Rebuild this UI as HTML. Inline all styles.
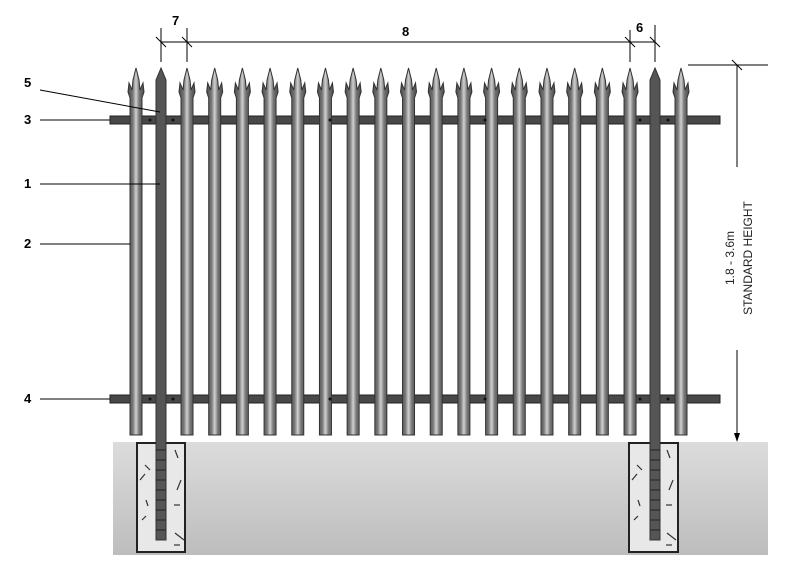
<!DOCTYPE html>
<html><head><meta charset="utf-8"><style>
html,body{margin:0;padding:0;background:#fff;width:795px;height:577px;overflow:hidden}
svg{display:block}
text{font-family:"Liberation Sans",Arial,sans-serif}
</style></head><body>
<svg id="s" width="795" height="577" viewBox="0 0 795 577" xmlns="http://www.w3.org/2000/svg">
<defs>
<linearGradient id="pg" x1="0" x2="1" y1="0" y2="0">
<stop offset="0" stop-color="#4a4a4a"/><stop offset="0.3" stop-color="#777"/><stop offset="0.5" stop-color="#d0d0d0"/><stop offset="0.7" stop-color="#777"/><stop offset="1" stop-color="#4a4a4a"/>
</linearGradient>
<linearGradient id="gg" x1="0" x2="0" y1="0" y2="1">
<stop offset="0" stop-color="#dcdcdc"/><stop offset="1" stop-color="#bdbdbd"/>
</linearGradient>
<symbol id="pale" overflow="visible">
<path d="M0,0 L3,12 L4,22 L7,15 L8,24 L6,30 L6,367 L-6,367 L-6,30 L-8,24 L-7,15 L-4,22 L-3,12 Z" fill="url(#pg)" stroke="#333" stroke-width="1"/>
</symbol>
</defs>
<!-- ground -->
<rect x="113" y="442" width="655" height="113" fill="url(#gg)"/>
<g id="pales"></g>
<!-- concrete -->
<rect x="137" y="443" width="48" height="109" fill="#e8e8e8" stroke="#222" stroke-width="2"/>
<rect x="629" y="443" width="49" height="109" fill="#e8e8e8" stroke="#222" stroke-width="2"/>
<g stroke="#333" stroke-width="1.2">
<line x1="145" y1="465" x2="150" y2="470"/><line x1="140" y1="480" x2="145" y2="474"/><line x1="175" y1="450" x2="178" y2="458"/><line x1="177" y1="490" x2="181" y2="480"/><line x1="146" y1="500" x2="148" y2="506"/><line x1="142" y1="520" x2="146" y2="516"/><line x1="175" y1="533" x2="184" y2="540"/><line x1="174" y1="545" x2="180" y2="545"/><line x1="174" y1="505" x2="180" y2="505"/>
<line x1="637" y1="465" x2="642" y2="470"/><line x1="632" y1="480" x2="637" y2="474"/><line x1="667" y1="450" x2="670" y2="458"/><line x1="669" y1="490" x2="673" y2="480"/><line x1="638" y1="500" x2="640" y2="506"/><line x1="634" y1="520" x2="638" y2="516"/><line x1="667" y1="533" x2="676" y2="540"/><line x1="666" y1="545" x2="672" y2="545"/><line x1="666" y1="505" x2="672" y2="505"/>
</g>
<g id="posts"></g>
<!-- dimensions -->
<g stroke="#000" stroke-width="1" fill="none">
<line x1="161" y1="42" x2="655" y2="42"/>
<line x1="161" y1="28" x2="161" y2="62"/><line x1="187" y1="28" x2="187" y2="62"/>
<line x1="630" y1="30" x2="630" y2="62"/><line x1="655" y1="25" x2="655" y2="62"/>
<line x1="156" y1="37" x2="166" y2="47"/><line x1="182" y1="37" x2="192" y2="47"/>
<line x1="625" y1="37" x2="635" y2="47"/><line x1="650" y1="37" x2="660" y2="47"/>
<line x1="688" y1="65" x2="768" y2="65"/><line x1="732" y1="60" x2="742" y2="70"/>
<line x1="737" y1="65" x2="737" y2="167"/><line x1="737" y1="350" x2="737" y2="438"/>
<line x1="40" y1="90" x2="160" y2="112"/>
<line x1="40" y1="120" x2="110" y2="120"/>
<line x1="40" y1="184" x2="160" y2="184"/>
<line x1="40" y1="244" x2="130" y2="244"/>
<line x1="40" y1="399" x2="110" y2="399"/>
</g>
<path d="M734,433 L737,442 L740,433 Z" fill="#000"/>
<g font-size="13" font-weight="bold" fill="#000">
<text x="172" y="25">7</text><text x="402" y="36">8</text><text x="636" y="32">6</text>
<text x="24" y="87">5</text><text x="24" y="124">3</text><text x="24" y="188">1</text><text x="24" y="248">2</text><text x="24" y="403">4</text>
</g>
<g font-size="12" fill="#222" text-anchor="middle">
<text transform="translate(734,258) rotate(-90)">1.8 - 3.6m</text>
<text transform="translate(752,258) rotate(-90)">STANDARD HEIGHT</text>
</g>
</svg>
<script>
var ns="http://www.w3.org/2000/svg",g=document.getElementById('pales'),p=document.getElementById('posts');
function el(t,a,par){var e=document.createElementNS(ns,t);for(var k in a)e.setAttribute(k,a[k]);par.appendChild(e);return e;}
// rails
el('rect',{x:110,y:116,width:610,height:8,fill:'#484848',stroke:'#222','stroke-width':1},g);
el('rect',{x:110,y:395,width:610,height:8,fill:'#484848',stroke:'#222','stroke-width':1},g);
var xs=[136];for(var i=0;i<17;i++)xs.push(187+i*27.69);xs.push(681);
xs.forEach(function(x){var u=el('use',{x:x,y:68},g);u.setAttributeNS('http://www.w3.org/1999/xlink','href','#pale');u.setAttribute('href','#pale');});
[161,655].forEach(function(x){
el('path',{d:'M'+x+',68 L'+(x+5)+',80 L'+(x+5)+',540 L'+(x-5)+',540 L'+(x-5)+',80 Z',fill:'#555',stroke:'#333','stroke-width':1},p);
for(var y=450;y<538;y+=10)el('line',{x1:x-5,y1:y,x2:x+5,y2:y,stroke:'#222','stroke-width':1},p);
});
// rivets
[120,399].forEach(function(y){[150,173,330,485,640,668].forEach(function(x){el('circle',{cx:x,cy:y,r:1.5,fill:'#111'},p);});});
</script>
</body></html>
